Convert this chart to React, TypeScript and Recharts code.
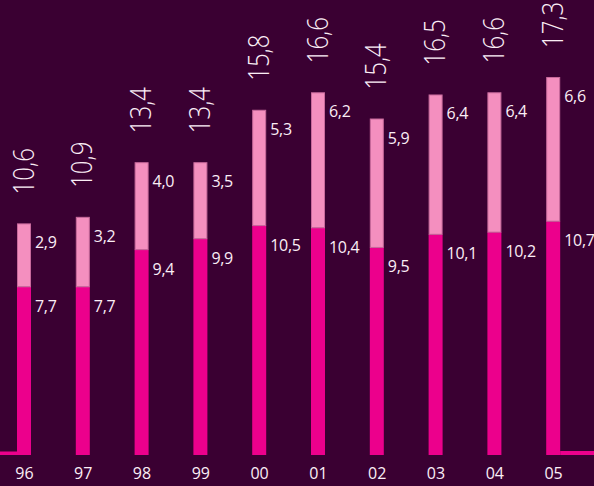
import React from 'react';
import { BarChart, Bar, XAxis, YAxis, LabelList } from 'recharts';

const years = ['96', '97', '98', '99', '00', '01', '02', '03', '04', '05'];
const baseValues = [7.7, 7.7, 9.4, 9.9, 10.5, 10.4, 9.5, 10.1, 10.2, 10.7];
const topValues = [2.9, 3.2, 4.0, 3.5, 5.3, 6.2, 5.9, 6.4, 6.4, 6.6];
const totals = [10.6, 10.9, 13.4, 13.4, 15.8, 16.6, 15.4, 16.5, 16.6, 17.3];

const data = years.map((y, i) => ({ year: y, base: baseValues[i], top: topValues[i], total: totals[i] }));

const BG = '#3a0032';
const MAGENTA = '#ec008c';
const PINK = '#f48fbf';
const TEXT = '#fbeef6';
const FONT = '"Open Sans", sans-serif';

const fmt = (v: number) => Number(v).toFixed(1).replace('.', ',');

const BaseShape = (props: any) => {
  const { x, y, width, height, index } = props;
  return (
    <g>
      <rect x={x} y={y} width={width} height={height} fill={MAGENTA} />
      {index === 0 && <rect x={x - 40} y={y + height - 3.5} width={40} height={3.5} fill={MAGENTA} />}
      {index === years.length - 1 && (
        <rect x={x + width} y={y + height - 4} width={60} height={4} fill={MAGENTA} />
      )}
    </g>
  );
};

const TopShape = (props: any) => {
  const { x, y, width, height } = props;
  return <rect x={x + 0.5} y={y + 0.5} width={width - 1} height={height - 0.5} fill={PINK} stroke="#c8699c" strokeWidth={1} />;
};

const SideLabel = (props: any) => {
  const { x, y, width, value } = props;
  return (
    <text
      x={Number(x) + Number(width) + 4}
      y={Number(y) + 25}
      fill={TEXT}
      fontSize={16}
      letterSpacing={-0.3}
      fontFamily={FONT}
    >
      {fmt(value)}
    </text>
  );
};

const TotalLabel = (props: any) => {
  const { x, y, width, value } = props;
  const cx = Number(x) + Number(width) / 2 + 9.6;
  const cy = Number(y) - 29;
  return (
    <text
      transform={`translate(${cx},${cy}) rotate(-90) scale(0.8,1)`}
      fill={TEXT}
      fontSize={30}
      fontWeight={300}
      fontFamily={FONT}
    >
      {fmt(value)}
    </text>
  );
};

export default function App() {
  return (
    <div style={{ position: 'absolute', top: 0, left: 0, width: 594, height: 486, overflow: 'hidden', background: BG }}>
      <div style={{ position: 'absolute', top: 0, left: -5 }}>
        <BarChart width={600} height={486} data={data} margin={{ top: 18, right: 12, bottom: 0, left: 0 }}>
          <XAxis
            dataKey="year"
            axisLine={false}
            tickLine={false}
            tickMargin={7}
            height={31}
            interval={0}
            tick={{ fill: TEXT, fontSize: 16, fontFamily: FONT }}
          />
          <YAxis hide domain={[0, 20]} />
          <Bar dataKey="base" stackId="a" barSize={14} isAnimationActive={false} shape={BaseShape}>
            <LabelList dataKey="base" content={SideLabel} />
          </Bar>
          <Bar dataKey="top" stackId="a" barSize={14} isAnimationActive={false} shape={TopShape}>
            <LabelList dataKey="top" content={SideLabel} />
            <LabelList dataKey="total" content={TotalLabel} />
          </Bar>
        </BarChart>
      </div>
    </div>
  );
}
